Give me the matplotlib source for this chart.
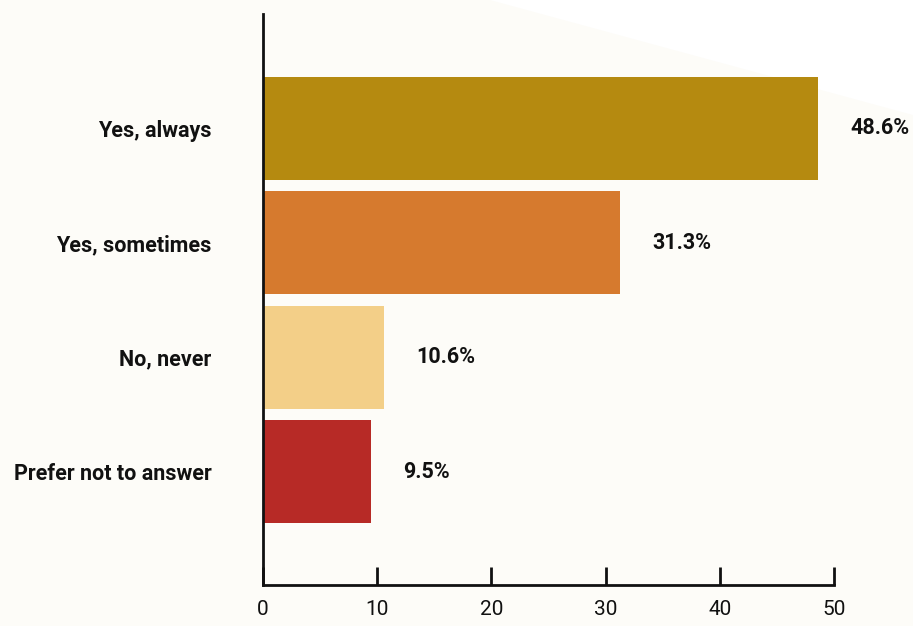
import matplotlib.pyplot as plt
from matplotlib.patches import Polygon

categories = ['Yes, always', 'Yes, sometimes', 'No, never', 'Prefer not to answer']
values = [48.6, 31.3, 10.6, 9.5]
labels = ['48.6%', '31.3%', '10.6%', '9.5%']
colors = ['#b58a10', '#d67a2e', '#f3cf88', '#b72a26']
ticks = [0, 10, 20, 30, 40, 50]

plt.rcParams['font.family'] = ['Roboto', 'DejaVu Sans']

fig = plt.figure(figsize=(9.13, 6.26), dpi=100)
fig.patch.set_facecolor('#fdfcf8')
# white wedge in the top right corner, kept behind the axes
fig.patches.append(Polygon([(490 / 913, 1), (1, 1), (1, 1 - 115 / 626)], closed=True,
                           transform=fig.transFigure, facecolor='white', edgecolor='none', zorder=-1))

ax = fig.add_axes([263 / 913, 41 / 626, 571 / 913, 571 / 626])
ax.set_facecolor('none')

y = range(len(categories))
ax.barh(y, values, height=0.9, color=colors)
for i, (v, lab) in enumerate(zip(values, labels)):
    ax.text(v + 2.8, i, lab, va='center', ha='left', fontsize=15.5, fontweight='bold', color='#111111')

ax.set_ylim(3.99, -1.0)
ax.set_xlim(0, 50)
ax.set_yticks(list(y))
ax.set_yticklabels(categories, fontsize=15.5, fontweight='bold', color='#111111')
ax.tick_params(axis='y', length=0, pad=37)
ax.set_xticks(ticks)
ax.set_xticklabels([str(t) for t in ticks], fontsize=15, color='#111111')
ax.tick_params(axis='x', direction='in', length=13, width=2, pad=11, color='#111111')

for side in ['top', 'right']:
    ax.spines[side].set_visible(False)
for side in ['left', 'bottom']:
    ax.spines[side].set_linewidth(2)
    ax.spines[side].set_color('#111111')

fig.savefig('out.png', dpi=100, facecolor=fig.get_facecolor())
